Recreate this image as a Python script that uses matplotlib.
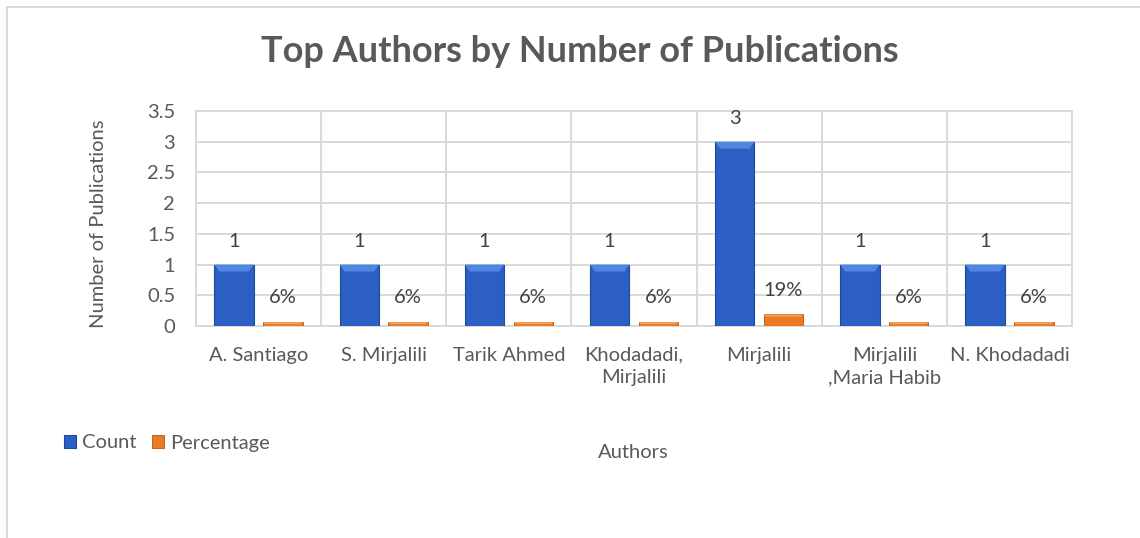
import matplotlib.pyplot as plt
from matplotlib.patches import Polygon
from matplotlib.lines import Line2D
import numpy as np

authors = ['A. Santiago', 'S. Mirjalili', 'Tarik Ahmed', 'Khodadadi,\nMirjalili',
           'Mirjalili', 'Mirjalili\n,Maria Habib', 'N. Khodadadi']
counts = [1, 1, 1, 1, 3, 1, 1]
percentages = [0.0625, 0.0625, 0.0625, 0.0625, 0.1875, 0.0625, 0.0625]

TEXT = '#595959'
GRID = '#D9D9D9'
BLUE = '#2C5FC4'
BLUE_EDGE = '#1F4A9C'
BLUE_LIGHT = '#4F86E2'
ORANGE = '#EB7A26'
ORANGE_EDGE = '#B8560F'
ORANGE_LIGHT = '#F6A35C'
FS = 14.5

plt.rcParams['font.family'] = ['Lato', 'DejaVu Sans']


def add_bevel(ax, bars, light, px=(5, 7)):
    # fake Excel bevel: lighter trapezoid on the top of each bar
    x0, x1 = ax.get_xlim()
    y0, y1 = ax.get_ylim()
    bbox = ax.get_window_extent()
    dx = px[0] * (x1 - x0) / bbox.width
    dy = px[1] * (y1 - y0) / bbox.height
    for b in bars:
        x, w, h = b.get_x(), b.get_width(), b.get_height()
        d = min(dy, h / 2)
        pts = [(x, h), (x + w, h), (x + w - dx, h - d), (x + dx, h - d)]
        ax.add_patch(Polygon(pts, closed=True, facecolor=light, edgecolor='none', zorder=3.5))


def generate_plot():
    fig = plt.figure(figsize=(11.4, 5.38), dpi=100)
    ax = fig.add_axes([196 / 1140, 212 / 538, 876 / 1140, 215 / 538])

    x = np.arange(len(authors))
    off, w = 0.195, 0.315
    b1 = ax.bar(x - off, counts, w, color=BLUE, edgecolor=BLUE_EDGE, linewidth=0.8,
                zorder=3, label='Count')
    b2 = ax.bar(x + off, percentages, w, color=ORANGE, edgecolor=ORANGE_EDGE, linewidth=0.6,
                zorder=3, label='Percentage')

    ax.set_xlim(-0.5, len(authors) - 0.5)
    ax.set_ylim(0, 3.5)
    ax.set_yticks(np.arange(0, 3.51, 0.5))
    ax.set_yticklabels(['0', '0.5', '1', '1.5', '2', '2.5', '3', '3.5'])
    ax.set_xticks(x)
    ax.set_xticklabels(authors, linespacing=1.4)
    ax.set_xticks(np.arange(-0.5, len(authors), 1), minor=True)

    ax.grid(axis='y', which='major', color=GRID, linewidth=1.4, zorder=0)
    ax.grid(axis='x', which='minor', color=GRID, linewidth=1.4, zorder=0)
    ax.tick_params(which='both', length=0)
    ax.tick_params(axis='y', pad=15, labelsize=FS, labelcolor=TEXT)
    ax.tick_params(axis='x', pad=15, labelsize=FS, labelcolor=TEXT)
    for s in ax.spines.values():
        s.set_color(GRID)
        s.set_linewidth(1.4)

    add_bevel(ax, b1, BLUE_LIGHT)
    add_bevel(ax, b2, ORANGE_LIGHT, px=(2, 2))

    for b, c in zip(b1, counts):
        ax.annotate(f'{c}', (b.get_x() + b.get_width() / 2, c), xytext=(0, 16.5),
                    textcoords='offset points', ha='center', va='center',
                    fontsize=FS, color='#404040')
    for b, p in zip(b2, percentages):
        ax.annotate(f'{p:.0%}', (b.get_x() + b.get_width() / 2, p), xytext=(0, 17.5),
                    textcoords='offset points', ha='center', va='center',
                    fontsize=FS, color='#404040')

    fig.text(98 / 1140, 1 - 224 / 538, 'Number of Publications', rotation=90,
             ha='center', va='center', fontsize=FS, color=TEXT)
    fig.text(633 / 1140, 1 - 453 / 538, 'Authors', ha='center', va='center',
             fontsize=FS, color=TEXT)
    fig.text(580 / 1140, 1 - 51 / 538, 'Top Authors by Number of Publications',
             ha='center', va='center', fontsize=26, fontweight='bold', color=TEXT)

    fig.legend(handles=[b1, b2], loc='center left', bbox_to_anchor=(64 / 1140, 1 - 443 / 538),
               ncol=2, frameon=False, fontsize=FS, labelcolor=TEXT, handlelength=0.6,
               handleheight=0.6, handletextpad=0.3, columnspacing=0.75, borderpad=0,
               borderaxespad=0)

    # outer chart frame (top and left edges visible)
    fig.add_artist(Line2D([7 / 1140, 1], [1 - 7 / 538] * 2, transform=fig.transFigure,
                          color=GRID, linewidth=1.4))
    fig.add_artist(Line2D([7 / 1140] * 2, [0, 1 - 7 / 538], transform=fig.transFigure,
                          color=GRID, linewidth=1.4))
    return fig


if __name__ == '__main__':
    fig = generate_plot()
    fig.savefig('out.png', dpi=100)
